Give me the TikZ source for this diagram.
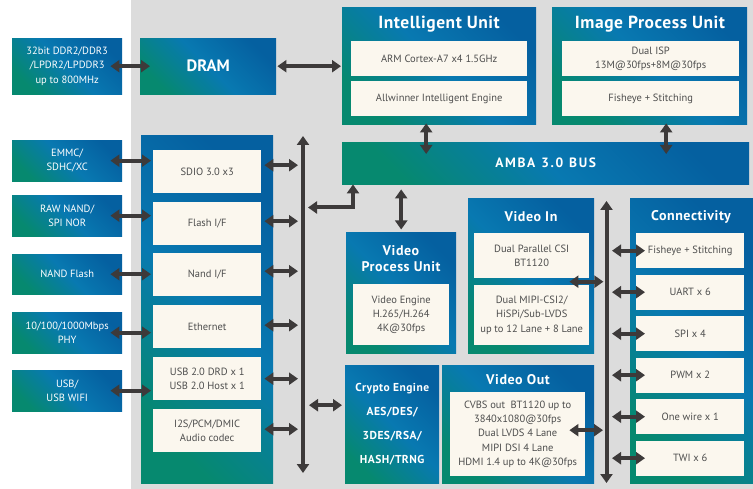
\documentclass[tikz,border=0pt]{standalone}
\usepackage{fontspec}
\setmainfont{PT Sans}
\usetikzlibrary{arrows.meta,calc}
\definecolor{bg}{HTML}{DCDCDC}
\definecolor{cream}{HTML}{FBF7EE}
\definecolor{arr}{HTML}{3D3A3A}
\definecolor{bA}{HTML}{0560A0}
\definecolor{bB}{HTML}{0879B1}
\definecolor{bC}{HTML}{06896F}
\definecolor{txt}{HTML}{4D4D4D}
\newcommand\bx[7]{\node[#1, anchor=north west, inner sep=0pt, minimum width={(#4-#2)*1pt}, minimum height={(#5-#3)*1pt}] (#6) at (#2,#3) {#7};}
\tikzset{
  bluebox/.style={top color=bA, bottom color=bC, middle color=bB, shading angle=-45, draw=none},
  creambox/.style={fill=cream, draw=none, text=txt, align=center, font=\fontsize{10.5}{14.3}\selectfont},
  extbox/.style={bluebox, text=white, align=center, font=\fontsize{10.5}{14.3}\selectfont},
  ttl/.style={text=white, align=center, inner sep=0pt, font=\fontsize{14}{15.5}\selectfont\bfseries\addfontfeatures{LetterSpace=4}},
  dbl/.style={draw=arr, line width=4pt, {Triangle[width=12pt,length=9pt]}-{Triangle[width=12pt,length=9pt]}}
}
\begin{document}
\begin{tikzpicture}[x=1pt,y=-1pt]
\useasboundingbox (0,0) rectangle (753,489);
\fill[bg] (131,0) rectangle (753,489);
% external boxes
\bx{extbox}{12}{38}{122}{94}{ddr}{32bit DDR2/DDR3\\/LPDR2/LPDDR3\\up to 800MHz}
\bx{extbox}{12}{140}{122}{181}{emmc}{EMMC/\\SDHC/XC}
\bx{extbox}{12}{195}{122}{236}{raw}{RAW NAND/\\SPI NOR}
\bx{extbox}{12}{254}{122}{294}{nandf}{NAND Flash}
\bx{extbox}{12}{312}{122}{353}{phy}{10/100/1000Mbps\\PHY}
\bx{extbox}{12}{370}{122}{411}{usbw}{USB/\\USB WIFI}
% DRAM
\bx{bluebox, text=white, font=\fontsize{16.5}{18}\selectfont\bfseries}{140}{38}{276}{94}{dram}{DRAM}
% peripheral block
\bx{bluebox}{141}{135}{273}{483}{per}{}
\bx{creambox}{153}{150}{261}{193}{sdio}{SDIO 3.0 x3}
\bx{creambox}{153}{202}{261}{245}{flash}{Flash I/F}
\bx{creambox}{153}{253}{261}{296}{nandif}{Nand I/F}
\bx{creambox}{153}{305}{261}{348}{eth}{Ethernet}
\bx{creambox}{153}{357}{261}{400}{usb}{USB 2.0 DRD x 1\\USB 2.0 Host x 1}
\bx{creambox}{153}{409}{261}{452}{i2s}{I2S/PCM/DMIC\\Audio codec}
% intelligent unit
\bx{bluebox}{342}{7}{536}{124}{iu}{}
\node[ttl, font=\fontsize{17.5}{20}\selectfont\bfseries\addfontfeatures{LetterSpace=3}] (iuT) at (439,24) {Intelligent Unit};
\bx{creambox}{351}{41}{527}{76}{arm}{ARM Cortex-A7 x4 1.5GHz}
\bx{creambox}{351}{81}{527}{116}{aie}{Allwinner Intelligent Engine}
% image process unit
\bx{bluebox}{552}{7}{747}{124}{ipu}{}
\node[ttl, font=\fontsize{17.5}{20}\selectfont\bfseries\addfontfeatures{LetterSpace=3}] (ipuT) at (650,24) {Image Process Unit};
\bx{creambox}{562}{41}{739}{76}{isp}{Dual ISP\\13M@30fps+8M@30fps}
\bx{creambox}{562}{81}{739}{116}{fish}{Fisheye + Stitching}
% AMBA
\bx{bluebox, text=white, font=\fontsize{13.5}{15}\selectfont\bfseries\addfontfeatures{LetterSpace=12}}{342}{142}{749}{184}{amba}{AMBA\hspace{6pt}3.0\hspace{6pt}BUS}
% video process unit
\bx{bluebox}{346}{232}{456}{353}{vpu}{}
\node[ttl] (vpuT) at (401,258.5) {Video\\Process Unit};
\bx{creambox}{353}{284}{449}{345}{vpe}{Video Engine\\H.265/H.264\\4K@30fps}
% video in
\bx{bluebox}{468}{198}{594}{353}{vin}{}
\node[ttl] (vinT) at (531,217) {Video In};
\bx{creambox}{474}{233}{589}{278}{vin1}{Dual Parallel CSI\\BT1120}
\bx{creambox}{474}{285}{589}{345}{vin2}{Dual MIPI-CSI2/\\HiSPi/Sub-LVDS\\up to 12 Lane + 8 Lane}
% crypto
\bx{bluebox, text=white, align=center, font=\fontsize{11.5}{24.3}\selectfont\bfseries\addfontfeatures{LetterSpace=4}}{345}{365}{439}{483}{cry}{Crypto Engine\\AES/DES/\\3DES/RSA/\\HASH/TRNG}
% video out
\bx{bluebox}{442}{365}{594}{483}{vout}{}
\node[ttl] (voutT) at (518,380) {Video Out};
\bx{creambox}{450}{392}{585}{476}{vo}{CVBS out\ \ BT1120 up to\\3840x1080@30fps\\Dual LVDS 4 Lane\\MIPI DSI 4 Lane\\HDMI 1.4 up to 4K@30fps}
% connectivity
\bx{bluebox}{630}{198}{753}{483}{con}{}
\node[ttl] (conT) at (691,217) {Connectivity};
\bx{creambox}{636}{233}{744}{268}{c1}{Fisheye + Stitching}
\bx{creambox}{636}{274.5}{744}{309.5}{c2}{UART x 6}
\bx{creambox}{636}{316}{744}{351}{c3}{SPI x 4}
\bx{creambox}{636}{357.5}{744}{392.5}{c4}{PWM x 2}
\bx{creambox}{636}{399}{744}{434}{c5}{One wire x 1}
\bx{creambox}{636}{440.5}{744}{475.5}{c6}{TWI x 6}
% buses
\coordinate (bL1) at (303,136);
\coordinate (bL2) at (303,473);
\coordinate (bR1) at (606.5,201);
\coordinate (bR2) at (606.5,483);
\coordinate (Lc) at (308,207.5);
\draw[dbl] (bL1) -- (bL2);
\draw[dbl] (bR1) -- (bR2);
% arrows
\draw[dbl] ([xshift=-12pt]ddr.east) -- ([xshift=10pt]dram.west);
\draw[dbl] ([xshift=1pt]dram.east) -- ([xshift=-1pt]dram.east -| iu.west);
\foreach \e/\i in {emmc/sdio,raw/flash,nandf/nandif,phy/eth,usbw/usb}
  \draw[dbl] ([xshift=-12pt]\e.east) -- ($(\e.east -| \i.west)+(-2,0)$);
\draw[dbl] ($(sdio.east)+(3,-6.5)$) -- ($(sdio.east -| bL1)+(-5,-6.5)$);
\foreach \i/\d in {flash/-2.5,nandif/-3.5,eth/-1.5,usb/0,i2s/-1.5}
  \draw[dbl] ($(\i.east)+(3,\d)$) -- ($(\i.east -| bL1)+(-5,\d)$);
\draw[dbl] ([xshift=11pt]amba.south west) |- (Lc);
\draw[dbl] ([yshift=-5pt]vpu.north |- amba.south) -- ([yshift=2.5pt]vpu.north);
\draw[dbl] ([xshift=-13pt,yshift=1pt]iu.south) -- ([xshift=-13pt,yshift=-12pt]iu.south |- amba.north);
\draw[dbl] ([xshift=16.5pt,yshift=1pt]ipu.south) -- ([xshift=16.5pt,yshift=-12pt]ipu.south |- amba.north);
\draw[dbl] ($(cry.west -| bL1)+(6,-19)$) -- ($(cry.west)+(-3,-19)$);
\draw[dbl] ($(vin1.south east)!0.5!(vin2.north east)+(-20,0)$) -- ($(vin1.south east)!0.5!(vin2.north east)+(14,0)$);
\draw[dbl] ($(vo.east)+(-16,-4)$) -- ($(vo.east -| bR1)+(-3.5,-4)$);
\foreach \c in {c1,c2,c3,c4,c5,c6}
  \draw[dbl] ($(\c.west -| bR1)+(5.5,0)$) -- ($(\c.west)+(9,0)$);
\end{tikzpicture}
\end{document}
